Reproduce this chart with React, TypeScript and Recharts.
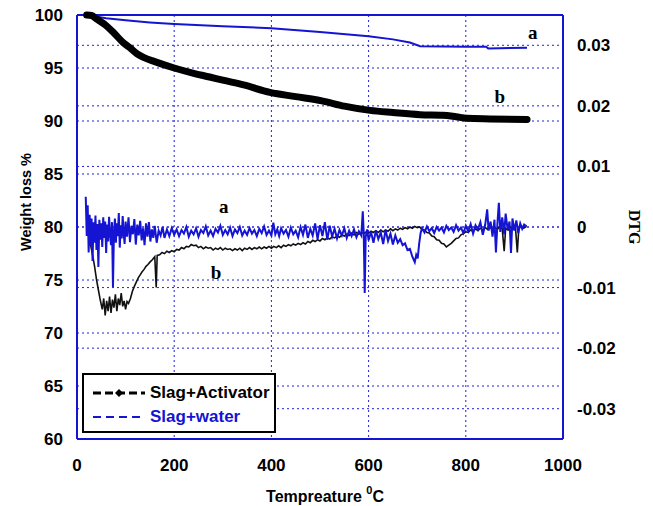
import React from "react"
import {
  ComposedChart,
  Line,
  XAxis,
  YAxis,
  CartesianGrid,
  ReferenceLine,
  ReferenceDot,
  Legend,
  Label,
} from "recharts"

// temperature ticks (°C)
const tempTicks = [0, 200, 400, 600, 800, 1000]
// weight loss ticks (%)
const weightTicks = [60, 65, 70, 75, 80, 85, 90, 95, 100]
// DTG ticks, in thousandths
const dtgTicks = [-30, -20, -10, 0, 10, 20, 30]

// TGA curve a: slag + water
const tgaWater: [number, number][] = [
  [20, 100], [60, 99.7], [100, 99.5], [150, 99.3], [200, 99.15], [300, 98.95],
  [400, 98.75], [500, 98.4], [600, 98.0], [650, 97.7], [685, 97.4], [706, 97.05],
  [800, 97.0], [842, 97.0], [846, 96.85], [926, 96.9],
]

// TGA curve b: slag + activator
const tgaActivator: [number, number][] = [
  [20, 100], [30, 99.95], [41, 99.6], [60, 99.0], [76, 98.3], [95, 97.4],
  [109, 96.9], [125, 96.3], [137, 96.0], [160, 95.6], [200, 95.0], [240, 94.5],
  [273, 94.15], [300, 93.85], [343, 93.4], [397, 92.7], [450, 92.3], [504, 91.9],
  [550, 91.4], [603, 91.0], [650, 90.8], [706, 90.6], [753, 90.55], [780, 90.4],
  [802, 90.25], [850, 90.2], [926, 90.15],
]

// DTG a: slag + water (x 1e-3)
const dtgWater: [number, number][] = [
  [18, 5.0], [20, -1.5], [22, 3.6], [24, -4.2], [26, 2.0], [28, -3.1], [30, 1.4], [32, -5.6],
  [34, 0.8], [36, -2.6], [38, 1.9], [40, -3.8], [42, 0.5], [44, -6.6], [46, 1.2], [48, -2.1],
  [50, 0.6], [52, -3.3], [54, 1.6], [56, -1.8], [58, 0.9], [60, -4.3], [62, 0.4], [64, -2.4],
  [66, 1.7], [68, -1.2], [70, -3.0], [72, 0.8], [74, -9.9], [76, -1.0], [78, 1.4], [80, -2.6],
  [82, 0.6], [84, -1.5], [86, 2.3], [88, -3.4], [90, 0.3], [92, -1.9], [94, 1.8], [96, -1.0],
  [98, -2.8], [100, 0.9], [103, -1.6], [106, 1.6], [109, -2.5], [112, 0.2], [115, -1.2],
  [118, 1.3], [121, -2.9], [124, 0.4], [127, -1.4], [130, 1.0], [133, -2.2], [136, -0.2],
  [139, -3.0], [142, 0.6], [145, -1.6], [148, 0.8], [151, -2.4], [154, -0.4], [157, -1.8],
  [160, 0.2], [164, -2.6], [168, -0.6], [172, -1.4], [176, 0.0], [180, -1.8], [185, -0.4],
  [190, -1.5], [195, -0.2], [200, -1.3], [205, -0.4], [210, -1.5], [215, -0.5], [220, -1.1],
  [225, 0.0], [230, -1.6], [235, -0.6], [240, -1.2], [245, -0.2], [250, -1.6], [255, -0.5],
  [260, -1.0], [265, 0.1], [270, -1.4], [275, -0.6], [280, -1.5], [285, -0.3], [290, -0.9],
  [295, 0.2], [300, -1.3], [305, -0.5], [310, -1.2], [315, -0.1], [320, -1.5], [325, -0.4],
  [330, -1.0], [335, 0.0], [340, -1.4], [345, -0.6], [350, -1.3], [355, -0.2], [360, -1.1],
  [365, -0.5], [370, -1.5], [375, -0.3], [380, -1.0], [385, 0.1], [390, -1.3], [395, -0.6],
  [400, -1.4], [404, 0.7], [408, -1.2], [412, -0.4], [416, -1.5], [420, -0.2], [425, -1.1],
  [430, -0.5], [435, -1.6], [440, -0.1], [445, -1.2], [450, -0.6], [455, -1.7], [460, 0.0],
  [465, -1.3], [470, 0.4], [475, -1.8], [480, -0.3], [485, -1.4], [490, 0.6], [495, -2.0],
  [500, 0.3], [505, -1.5], [510, 0.8], [515, -2.1], [520, 0.2], [525, -1.6], [530, -0.3],
  [535, -1.9], [540, -0.5], [545, -1.4], [550, -0.2], [555, -1.8], [560, -0.6], [565, -1.5],
  [570, -0.4], [575, -1.7], [580, -0.7], [585, -1.4], [588, 2.6], [590, -1.0], [592, -10.9],
  [594, -1.6], [597, -0.4], [600, -2.2], [605, -0.8], [610, -2.6], [615, -0.6], [620, -2.0],
  [625, -0.9], [630, -2.8], [635, -0.5], [640, -2.3], [645, -1.1], [650, -2.9], [655, -1.4],
  [660, -2.6], [665, -2.0], [670, -3.0], [675, -2.7], [680, -3.8], [685, -3.6], [690, -4.9],
  [695, -5.8], [698, -4.6], [701, -5.2], [704, -2.8], [707, -1.0], [710, -0.2], [715, -0.9],
  [720, 0.1], [725, -0.7], [730, -0.2], [735, -1.0], [740, 0.0], [745, -0.6], [750, -0.1],
  [755, -0.9], [760, 0.2], [765, -0.5], [770, -0.1], [775, -0.8], [780, 0.3], [785, -0.6],
  [790, -0.1], [795, -1.0], [800, 0.2], [805, -0.7], [810, 0.5], [815, -1.1], [820, 0.3],
  [825, -0.4], [830, 0.8], [835, -1.3], [840, 0.4], [844, 2.9], [847, -0.6], [851, 0.9],
  [855, -1.6], [859, 1.2], [862, -4.2], [865, 0.5], [868, 4.0], [871, -0.8], [875, 1.6],
  [879, -1.2], [882, 2.2], [886, -0.4], [890, 0.9], [893, -4.3], [896, 1.4], [900, -0.6],
  [904, 1.1], [908, -1.0], [912, 0.6], [916, -0.3], [920, 0.4], [925, 0.1],
]

// DTG b: slag + activator (x 1e-3)
const dtgActivator: [number, number][] = [
  [20, 0.0], [24, -1.5], [28, -3.0], [32, -4.6], [36, -6.4], [40, -8.6], [44, -10.4], [48, -12.1],
  [52, -13.6], [55, -11.8], [58, -14.6], [61, -12.2], [64, -13.9], [67, -11.5], [70, -14.2],
  [73, -12.0], [76, -13.3], [79, -11.1], [82, -13.9], [85, -11.8], [88, -12.9], [91, -10.9],
  [94, -13.1], [97, -12.2], [100, -13.6], [103, -12.3], [106, -12.6], [110, -11.8], [114, -10.6],
  [118, -9.8], [122, -9.1], [126, -8.4], [130, -7.9], [134, -7.4], [138, -7.0], [142, -6.5],
  [146, -6.2], [150, -5.8], [155, -5.4], [160, -4.9], [163, -10.0], [165, -4.7], [170, -4.6],
  [175, -4.2], [180, -4.4], [185, -4.0], [190, -4.2], [195, -3.9], [200, -4.1], [205, -3.7],
  [210, -3.8], [215, -3.4], [220, -3.6], [225, -3.2], [230, -3.3], [235, -2.9], [240, -3.1],
  [245, -3.0], [250, -3.4], [255, -3.2], [260, -3.6], [265, -3.3], [270, -3.5], [275, -3.4],
  [280, -3.8], [285, -3.5], [290, -3.7], [295, -3.4], [300, -3.8], [305, -3.5], [310, -3.7],
  [315, -3.6], [320, -3.9], [325, -3.6], [330, -3.8], [335, -3.5], [340, -3.9], [345, -3.5],
  [350, -3.7], [355, -3.4], [360, -3.7], [365, -3.4], [370, -3.6], [375, -3.3], [380, -3.6],
  [385, -3.3], [390, -3.5], [395, -3.2], [400, -3.5], [405, -3.2], [410, -3.4], [415, -3.1],
  [420, -3.4], [425, -3.0], [430, -3.2], [435, -2.9], [440, -3.1], [445, -2.8], [450, -3.0],
  [455, -2.7], [460, -2.9], [465, -2.6], [470, -2.8], [475, -2.4], [480, -2.6], [485, -2.2],
  [490, -2.4], [495, -2.1], [500, -2.3], [505, -1.9], [510, -2.1], [515, -1.8], [520, -2.0],
  [525, -1.6], [530, -1.8], [535, -1.5], [540, -1.7], [545, -1.3], [550, -1.5], [555, -1.2],
  [560, -1.4], [565, -1.0], [570, -1.3], [575, -0.9], [580, -1.2], [585, -0.9], [590, -1.1],
  [595, -0.8], [600, -1.0], [605, -0.7], [610, -0.9], [615, -0.6], [620, -0.9], [625, -0.5],
  [630, -0.8], [635, -0.5], [640, -0.7], [645, -0.3], [650, -0.6], [655, -0.3], [660, -0.5],
  [665, -0.2], [670, -0.4], [675, -0.1], [680, -0.3], [685, 0.0], [690, -0.2], [695, 0.1],
  [700, -0.1], [705, 0.0], [710, -0.4], [715, -0.5], [720, -0.9], [725, -1.0], [730, -1.5],
  [735, -1.6], [740, -2.1], [745, -2.2], [750, -2.7], [755, -2.8], [760, -3.3], [765, -3.0],
  [770, -2.7], [775, -2.3], [780, -1.9], [785, -1.8], [790, -1.3], [795, -1.1], [800, -0.8],
  [805, -0.9], [810, -0.5], [815, -0.7], [820, -0.3], [825, -0.6], [830, -0.2], [835, -0.5],
  [840, -0.1], [845, -0.4], [850, 0.0], [855, -0.5], [860, -0.1], [865, -0.4], [870, 0.1],
  [875, -0.3], [879, -4.0], [882, -0.2], [887, -0.5], [892, 0.0], [897, -0.4], [902, 0.1],
  [906, -4.2], [909, -0.3], [914, 0.2], [919, -0.2], [925, 0.1],
]

const toRows = (pts: [number, number][]) => pts.map(([t, v]) => ({ t, v }))

const BLUE = "#1414d2"
const GRID = "#2020e0"
const SANS = "'Liberation Sans', Arial, sans-serif"
const SERIF = "'Liberation Serif', 'Times New Roman', serif"

const tickStyle = { fontSize: 17, fontWeight: "bold", fontFamily: SANS, fill: "#000" }
const letterStyle = { fontSize: 19, fontWeight: "bold", fontFamily: SERIF, fill: "#000" }

const LegendBox = () => (
  <div
    style={{
      border: "2px solid #000",
      background: "#fff",
      boxSizing: "border-box",
      width: 194,
      height: 60,
      padding: "6px 0 0 9px",
      fontFamily: SANS,
      fontWeight: "bold",
      fontSize: 17,
      lineHeight: "24px",
    }}
  >
    <div style={{ display: "flex", alignItems: "center" }}>
      <svg width={52} height={12} style={{ marginRight: 5 }}>
        <line x1={0} y1={6} x2={52} y2={6} stroke="#000" strokeWidth={3} strokeDasharray="8 4" />
        <polygon points="26,2 30,6 26,10 22,6" fill="#000" />
      </svg>
      <span style={{ color: "#000" }}>Slag+Activator</span>
    </div>
    <div style={{ display: "flex", alignItems: "center" }}>
      <svg width={52} height={12} style={{ marginRight: 5 }}>
        <line x1={0} y1={6} x2={52} y2={6} stroke={BLUE} strokeWidth={2} strokeDasharray="8 5" />
      </svg>
      <span style={{ color: BLUE }}>Slag+water</span>
    </div>
  </div>
)

export default function App() {
  return (
    <div style={{ position: "absolute", left: 0, top: 0, width: 653, height: 506, background: "#fff" }}>
      <ComposedChart width={653} height={506} margin={{ top: 15, right: 0, bottom: 0, left: 0 }}>
        <CartesianGrid yAxisId="left" stroke={GRID} strokeDasharray="2 3" />
        <CartesianGrid yAxisId="right" vertical={false} stroke={GRID} strokeDasharray="2 3" />
        <XAxis
          dataKey="t"
          type="number"
          domain={[0, 1000]}
          ticks={tempTicks}
          tick={tickStyle}
          tickLine={false}
          tickMargin={14}
          height={67}
          axisLine={{ stroke: BLUE, strokeWidth: 2 }}
        >
          <Label
            content={() => (
              <text x={325} y={502} textAnchor="middle" fontFamily={SANS} fontWeight="bold" fontSize={16} fill="#000">
                Tempreature{" "}
                <tspan dy={-8} fontSize={11}>0</tspan>
                <tspan dy={8}>C</tspan>
              </text>
            )}
          />
        </XAxis>
        <YAxis
          yAxisId="left"
          type="number"
          domain={[60, 100]}
          ticks={weightTicks}
          tick={tickStyle}
          tickLine={false}
          tickMargin={8}
          width={77}
          axisLine={{ stroke: BLUE, strokeWidth: 2 }}
        >
          <Label
            content={() => (
              <text
                x={26}
                y={202}
                transform="rotate(-90 26 202)"
                textAnchor="middle"
                dominantBaseline="central"
                fontFamily={SANS}
                fontWeight="bold"
                fontSize={14.5}
                fill="#000"
              >
                Weight loss %
              </text>
            )}
          />
        </YAxis>
        <YAxis
          yAxisId="right"
          orientation="right"
          type="number"
          domain={[-35, 35]}
          ticks={dtgTicks}
          tickFormatter={(v: number) => String(v / 1000)}
          tick={{ ...tickStyle, textAnchor: "start" }}
          tickLine={false}
          tickMargin={8}
          width={90}
          axisLine={{ stroke: BLUE, strokeWidth: 2 }}
        >
          <Label
            content={() => (
              <text
                x={634}
                y={227}
                transform="rotate(90 634 227)"
                textAnchor="middle"
                dominantBaseline="central"
                fontFamily={SERIF}
                fontWeight="bold"
                fontSize={16}
                fill="#000"
              >
                DTG
              </text>
            )}
          />
        </YAxis>
        <ReferenceLine yAxisId="left" y={100} stroke={BLUE} strokeWidth={2} />

        <Line
          yAxisId="right"
          data={toRows(dtgActivator)}
          dataKey="v"
          type="linear"
          stroke="#111"
          strokeWidth={1.6}
          dot={false}
          isAnimationActive={false}
        />
        <Line
          yAxisId="right"
          data={toRows(dtgWater)}
          dataKey="v"
          type="linear"
          stroke={BLUE}
          strokeWidth={2}
          dot={false}
          isAnimationActive={false}
        />
        <Line
          yAxisId="left"
          data={toRows(tgaWater)}
          dataKey="v"
          type="linear"
          stroke={BLUE}
          strokeWidth={2}
          dot={false}
          isAnimationActive={false}
        />
        <Line
          yAxisId="left"
          data={toRows(tgaActivator)}
          dataKey="v"
          type="monotone"
          stroke="#000"
          strokeWidth={7}
          strokeLinecap="round"
          dot={false}
          isAnimationActive={false}
        />

        <ReferenceDot yAxisId="left" x={938} y={98.4} r={0} label={{ value: "a", position: "center", ...letterStyle }} />
        <ReferenceDot yAxisId="left" x={870} y={92.36} r={0} label={{ value: "b", position: "center", ...letterStyle }} />
        <ReferenceDot yAxisId="right" x={302} y={3.5} r={0} label={{ value: "a", position: "center", ...letterStyle }} />
        <ReferenceDot yAxisId="right" x={286} y={-7.4} r={0} label={{ value: "b", position: "center", ...letterStyle }} />

        <Legend
          layout="vertical"
          align="center"
          verticalAlign="middle"
          content={() => <LegendBox />}
          wrapperStyle={{ left: 82, top: 373, width: 194, height: 60 }}
        />
      </ComposedChart>
    </div>
  )
}
